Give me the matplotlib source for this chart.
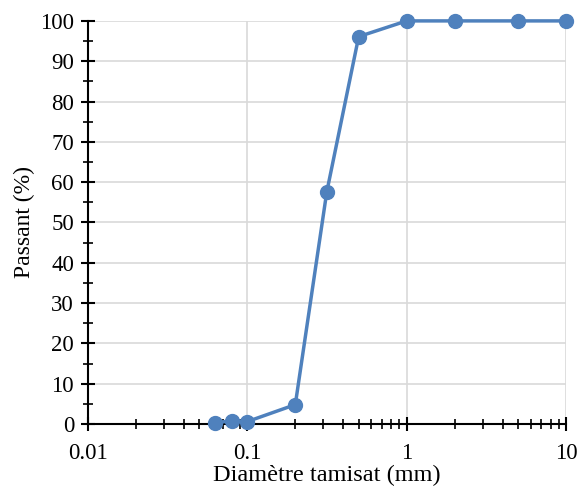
import matplotlib
matplotlib.use('Agg')
import matplotlib.pyplot as plt
from matplotlib.ticker import LogLocator, MultipleLocator, FixedLocator, FixedFormatter, NullFormatter

plt.rcParams['font.family'] = ['Liberation Serif']

diametre = [0.063, 0.08, 0.1, 0.2, 0.315, 0.5, 1, 2, 5, 10]
passant = [0.3, 0.8, 0.6, 4.8, 57.5, 96.1, 100, 100, 100, 100]

xticks = [0.01, 0.1, 1, 10]
xlabels = ['0.01', '0.1', '1', '10']

fig = plt.figure(figsize=(5.79, 4.86), dpi=100)
ax = fig.add_axes([0.152, 0.1276, 0.8255, 0.8294])

ax.plot(diametre, passant, color='#4F81BD', linewidth=2.5, marker='o', markersize=10, zorder=3, clip_on=False)

ax.set_xscale('log')
ax.set_xlim(0.01, 10)
ax.set_ylim(0, 100)

ax.xaxis.set_major_locator(FixedLocator(xticks))
ax.xaxis.set_major_formatter(FixedFormatter(xlabels))
ax.xaxis.set_minor_locator(LogLocator(base=10, subs=range(2, 10)))
ax.xaxis.set_minor_formatter(NullFormatter())
ax.yaxis.set_major_locator(MultipleLocator(10))
ax.yaxis.set_minor_locator(MultipleLocator(5))

ax.tick_params(which='major', direction='inout', length=10, width=1.5, labelsize=16.5)
ax.tick_params(axis='x', which='major', pad=9)
ax.tick_params(axis='y', which='major', pad=5)
ax.tick_params(which='minor', direction='inout', length=7, width=1.2)

ax.grid(True, which='major', color='#d9d9d9', linewidth=1.2)
ax.set_axisbelow(True)

for s in ['top', 'right']:
    ax.spines[s].set_visible(False)
for s in ['left', 'bottom']:
    ax.spines[s].set_linewidth(1.5)

ax.set_xlabel('Diamètre tamisat (mm)', fontsize=17.5, labelpad=0)
ax.set_ylabel('Passant (%)', fontsize=17, labelpad=4)

fig.savefig('out.png', dpi=100)
